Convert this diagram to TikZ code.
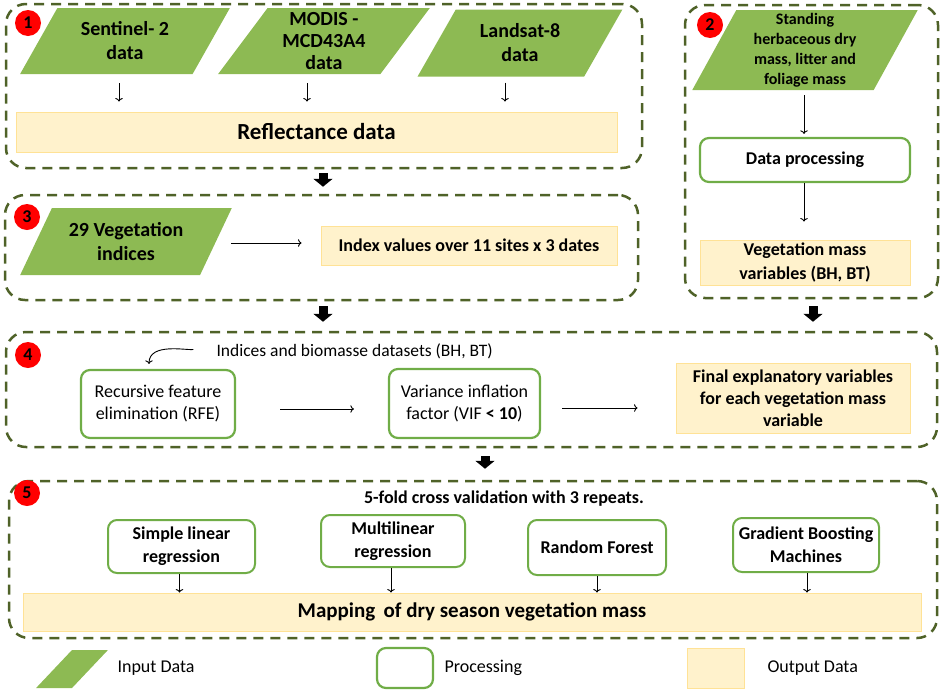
\documentclass[tikz,border=0pt]{standalone}
\usepackage{fontspec}
\setmainfont{Carlito}
\usepackage{tikz}
\usetikzlibrary{arrows,%
                arrows.meta,%
                petri,%
                shapes.geometric}

\definecolor{ingreen}{RGB}{141,186,83}
\definecolor{procgreen}{RGB}{112,173,71}
\definecolor{outfill}{RGB}{255,242,204}
\definecolor{outline}{RGB}{255,226,150}
\definecolor{groupline}{RGB}{79,98,40}

\begin{document}
\begin{tikzpicture}[x=1pt,y=-1pt]
		\useasboundingbox (0,0) rectangle (941,691);
		\tikzstyle{every node}=[font=\fontsize{18}{22}\selectfont,text=black]
		\tikzset{GroupStyle/.style = {draw=groupline,line width=2.5pt,dash pattern=on 10pt off 7pt,rounded corners=20pt,inner sep=0pt}}
		\tikzset{InputStyle/.style = {trapezium,trapezium stretches=true,fill=ingreen,inner sep=0pt,align=center,font=\fontsize{20}{24}\selectfont\bfseries}}
		\tikzset{ProcStyle/.style = {draw=procgreen,line width=2.2pt,rounded corners=9pt,fill=white,inner sep=0pt,align=center}}
		\tikzset{OutStyle/.style = {fill=outfill,draw=outline,line width=0.8pt,inner sep=0pt,align=center,font=\fontsize{18}{22}\selectfont\bfseries}}
		\tikzset{BadgeStyle/.style = {circle,fill=red,minimum size=26pt,inner sep=0pt,font=\fontsize{18}{18}\selectfont\bfseries}}
		\tikzstyle{flow}=[post,line width=0.9pt]
		\tikzstyle{block}=[-{Triangle[length=8pt,width=19pt]},line width=9pt]
		% groups
		\node[GroupStyle,minimum width=636pt,minimum height=164pt] (g1) at (324,86) {};
		\node[GroupStyle,minimum width=253pt,minimum height=293pt] (g2) at (811.5,151.5) {};
		\node[GroupStyle,minimum width=633pt,minimum height=105pt] (g3) at (321.5,247.5) {};
		\node[GroupStyle,minimum width=931pt,minimum height=115pt] (g4) at (471.5,389.5) {};
		\node[GroupStyle,minimum width=928pt,minimum height=157pt] (g5) at (473,559.5) {};
		\node[BadgeStyle] (b1) at (28,23) {1};
		\node[BadgeStyle] (b2) at (710,25) {2};
		\node[BadgeStyle] (b3) at (27,217) {3};
		\node[BadgeStyle] (b4) at (28,355) {4};
		\node[BadgeStyle] (b5) at (27,493) {5};
		% 1
		\node[InputStyle,minimum width=210pt,minimum height=66pt,trapezium left angle=57.5,trapezium right angle=122.5] (sentinel) at (125,41) {Sentinel- 2\\data};
		\node[InputStyle,minimum width=212pt,minimum height=66pt,trapezium left angle=57.5,trapezium right angle=122.5,font=\fontsize{20}{22}\selectfont\bfseries] (modis) at (324,41) {MODIS -\\MCD43A4\\data};
		\node[InputStyle,minimum width=205pt,minimum height=67pt,trapezium left angle=58,trapezium right angle=122] (landsat) at (520,43) {Landsat-8\\data};
		\node[OutStyle,minimum width=601pt,minimum height=40pt,font=\fontsize{23}{27}\selectfont\bfseries] (refl) at (316.5,132) {Reflectance data};
		\draw[flow,shorten <=9pt,shorten >=10pt] ([xshift=-6pt]sentinel.south) -- ([xshift=-6pt]sentinel.south |- refl.north);
		\draw[flow,shorten <=9pt,shorten >=10pt] ([xshift=-17pt]modis.south) -- ([xshift=-17pt]modis.south |- refl.north);
		\draw[flow,shorten <=6pt,shorten >=10pt] ([xshift=-15pt]landsat.south) -- ([xshift=-15pt]landsat.south |- refl.north);
		% 2
		\node[InputStyle,minimum width=226pt,minimum height=80pt,trapezium left angle=66,trapezium right angle=114,font=\fontsize{16}{20}\selectfont\bfseries] (field) at (805,50) {Standing\\herbaceous dry\\mass, litter and\\foliage mass};
		\node[ProcStyle,minimum width=210pt,minimum height=44pt,font=\fontsize{18}{22}\selectfont\bfseries] (dproc) at (805,160) {Data processing};
		\node[OutStyle,minimum width=210pt,minimum height=45pt,font=\fontsize{18}{24}\selectfont\bfseries] (vmass) at (805,262.5) {Vegetation mass\\variables (BH, BT)};
		\draw[flow,shorten <=5pt,shorten >=3pt] ([xshift=-1pt]field.south) -- ([xshift=-1pt]field.south |- dproc.north);
		\draw[flow,shorten >=18pt] ([xshift=-1pt]dproc.south) -- ([xshift=-1pt]dproc.south |- vmass.north);
		% 3
		\node[InputStyle,minimum width=212pt,minimum height=67pt,trapezium left angle=57.3,trapezium right angle=122.7] (vi) at (126,241.5) {29 Vegetation\\indices};
		\node[OutStyle] [minimum width=296pt,minimum height=39pt] (ival) at (469,245.5) {Index values over 11 sites x 3 dates};
		\draw[flow,shorten <=15pt,shorten >=19pt] ([yshift=-1.5pt]vi.east) -- ([yshift=-1.5pt]vi.east -| ival.west);
		% 4
		\node[anchor=west,font=\fontsize{17.5}{21}\selectfont] (sets) at (213,351) {Indices and biomasse datasets (BH, BT)};
		\node[ProcStyle,minimum width=154pt,minimum height=68pt] (rfe) at (158,404) {Recursive feature\\elimination (RFE)};
		\node[ProcStyle,minimum width=151pt,minimum height=69pt] (vif) at (464.5,403.5) {Variance inflation\\factor (VIF \textbf{< 10})};
		\node[OutStyle,minimum width=234pt,minimum height=70pt] (final) at (793,398) {Final explanatory variables\\for each vegetation mass\\variable};
		\draw[flow,shorten <=20pt,shorten >=5pt] ([yshift=5pt]sets.west) to[out=190,in=90] ([xshift=-9pt]rfe.north);
		\draw[flow,shorten <=44pt,shorten >=34pt] ([yshift=-5pt]rfe.east) -- ([yshift=-5pt]rfe.east -| vif.west);
		\draw[flow,shorten <=21pt,shorten >=38pt] ([yshift=-4.5pt]vif.east) -- ([yshift=-4.5pt]vif.east -| final.west);
		% 5
		\node[font=\fontsize{18}{22}\selectfont\bfseries] (cv) at (504,499) {5-fold cross validation with 3 repeats.};
		{
			\tikzset{ProcStyle/.append style = {line width=2pt,font=\fontsize{18}{23}\selectfont\bfseries}}
			\node[ProcStyle,minimum width=147pt,minimum height=53pt] (slr) at (181.5,546.5) {Simple linear\\regression};
			\node[ProcStyle,minimum width=144pt,minimum height=52pt] (mlr) at (393,541) {Multilinear\\regression};
			\node[ProcStyle,minimum width=138pt,minimum height=55pt] (rf) at (597,547.5) {Random Forest};
			\node[ProcStyle,minimum width=146pt,minimum height=54pt] (gbm) at (806,545) {Gradient Boosting\\Machines};
		}
		\node[OutStyle,minimum width=898pt,minimum height=38pt,font=\fontsize{21}{25}\selectfont\bfseries] (map) at (472,612) {Mapping\, of dry season vegetation mass};
		\draw[flow,shorten >=0pt] ([xshift=-2pt]slr.south) -- ([xshift=-2pt]slr.south |- map.north);
		\draw[flow,shorten >=0pt] ([xshift=-2pt]mlr.south) -- ([xshift=-2pt]mlr.south |- map.north);
		\draw[flow,shorten >=0pt] (rf.south) -- (rf.south |- map.north);
		\draw[flow,shorten >=0pt] ([xshift=1pt]gbm.south) -- ([xshift=1pt]gbm.south |- map.north);
		% between groups
		\draw[block,shorten <=4pt,shorten >=7pt] ([xshift=-1pt]g1.south) -- ([xshift=-1pt]g1.south |- g3.north);
		\draw[block,shorten <=5pt,shorten >=9pt] ([xshift=1.5pt]g3.south) -- ([xshift=1.5pt]g3.south |- g4.north);
		\draw[block,shorten <=7pt,shorten >=9pt] ([xshift=1.5pt]g2.south) -- ([xshift=1.5pt]g2.south |- g4.north);
		\draw[block,shorten <=8pt,shorten >=11pt] ([xshift=13.5pt]g4.south) -- ([xshift=13.5pt]g4.south |- g5.north);
		% legend
		\node[InputStyle,minimum width=72pt,minimum height=38pt,trapezium left angle=63,trapezium right angle=117] (kin) at (72,669) {\strut};
		\node[anchor=west] (kintext) at (114,668) {Input Data};
		\node[ProcStyle,minimum width=56pt,minimum height=40pt] (kproc) at (405,668) {};
		\node[anchor=west] (kproctext) at (441,668) {Processing};
		\node[OutStyle,minimum width=57pt,minimum height=40pt] (kout) at (715.5,668) {};
		\node[anchor=west] (kouttext) at (764,668) {Output Data};
	\end{tikzpicture}
\end{document}
